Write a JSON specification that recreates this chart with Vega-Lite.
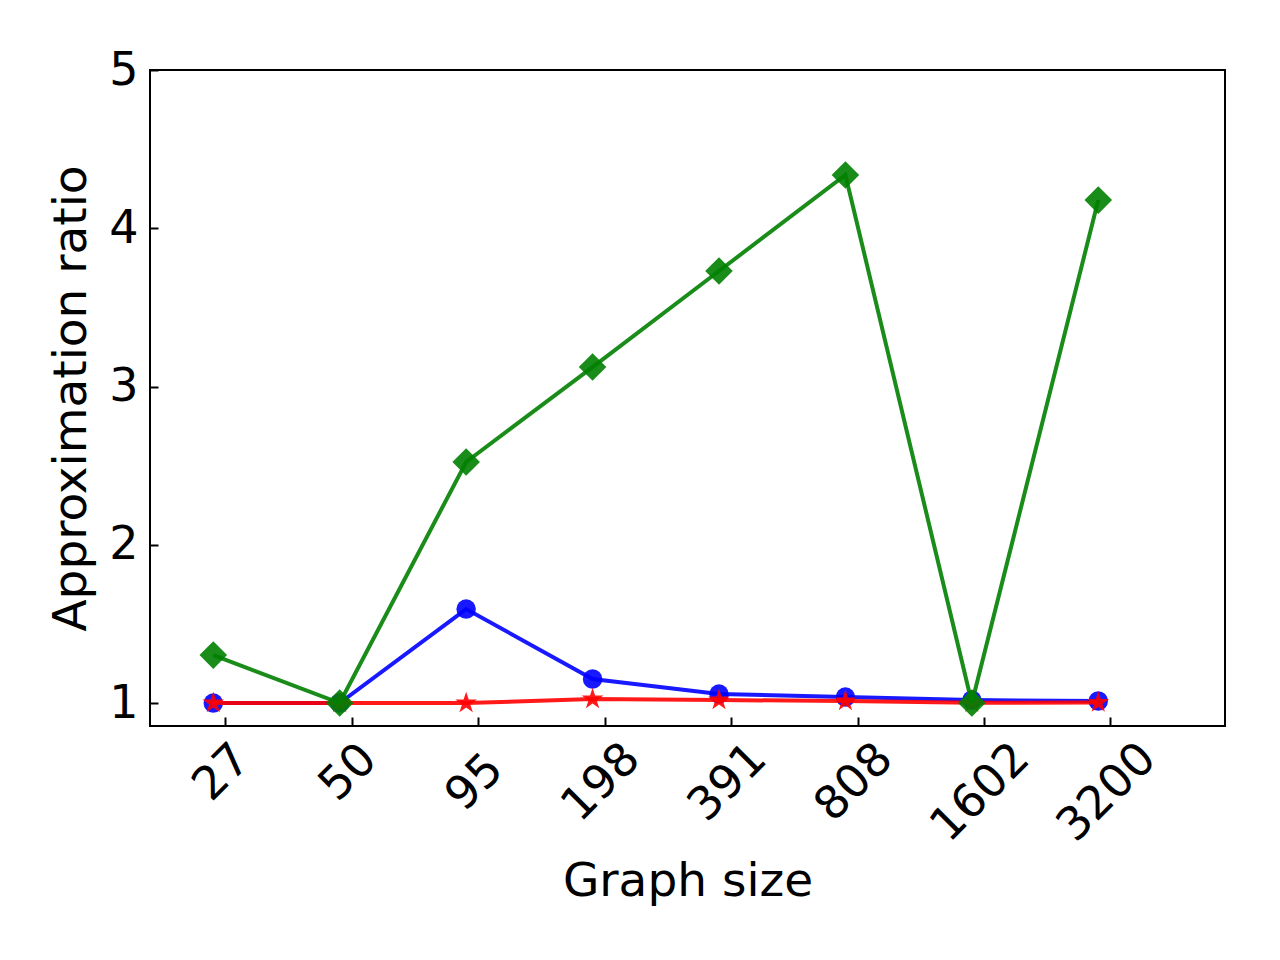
{
  "$schema": "https://vega.github.io/schema/vega-lite/v6.json",
  "width": 1075,
  "height": 656,
  "autosize": {"type": "none"},
  "padding": {"left": 150, "top": 70, "right": 55, "bottom": 234},
  "background": "white",
  "config": {
    "view": {"stroke": "black", "strokeWidth": 2},
    "font": "DejaVu Sans"
  },
  "data": {
    "values": [
      {"i": 0, "size": 27, "method": "A", "ratio": 1.0},
      {"i": 1, "size": 50, "method": "A", "ratio": 1.0},
      {"i": 2, "size": 95, "method": "A", "ratio": 1.594},
      {"i": 3, "size": 198, "method": "A", "ratio": 1.152},
      {"i": 4, "size": 391, "method": "A", "ratio": 1.057},
      {"i": 5, "size": 808, "method": "A", "ratio": 1.038},
      {"i": 6, "size": 1602, "method": "A", "ratio": 1.019},
      {"i": 7, "size": 3200, "method": "A", "ratio": 1.013},
      {"i": 0, "size": 27, "method": "B", "ratio": 1.0},
      {"i": 1, "size": 50, "method": "B", "ratio": 1.0},
      {"i": 2, "size": 95, "method": "B", "ratio": 1.0},
      {"i": 3, "size": 198, "method": "B", "ratio": 1.025},
      {"i": 4, "size": 391, "method": "B", "ratio": 1.019},
      {"i": 5, "size": 808, "method": "B", "ratio": 1.013},
      {"i": 6, "size": 1602, "method": "B", "ratio": 1.002},
      {"i": 7, "size": 3200, "method": "B", "ratio": 1.003},
      {"i": 0, "size": 27, "method": "C", "ratio": 1.303},
      {"i": 1, "size": 50, "method": "C", "ratio": 1.0},
      {"i": 2, "size": 95, "method": "C", "ratio": 2.523},
      {"i": 3, "size": 198, "method": "C", "ratio": 3.123},
      {"i": 4, "size": 391, "method": "C", "ratio": 3.73},
      {"i": 5, "size": 808, "method": "C", "ratio": 4.337},
      {"i": 6, "size": 1602, "method": "C", "ratio": 1.0},
      {"i": 7, "size": 3200, "method": "C", "ratio": 4.178}
    ]
  },
  "encoding": {
    "x": {
      "field": "size",
      "type": "ordinal",
      "bandPosition": 0.4,
      "scale": {"type": "band", "paddingInner": 0, "paddingOuter": 0.2515, "align": 0.2},
      "axis": {
        "title": "Graph size",
        "titleFontSize": 47,
        "titleFontWeight": "normal",
        "titleColor": "black",
        "titlePadding": 9,
        "bandPosition": 0.5,
        "labelAngle": -45,
        "labelAlign": "center",
        "labelBaseline": "middle",
        "labelFontSize": 46,
        "labelColor": "black",
        "labelOverlap": false,
        "labelFlush": false,
        "labelOffset": -4,
        "labelPadding": {
          "condition": [
            {"test": "datum.value < 90", "value": 55},
            {"test": "datum.value < 1000", "value": 65}
          ],
          "value": 75
        },
        "tickSize": -9,
        "tickWidth": 2,
        "tickColor": "black",
        "domain": false,
        "grid": false
      }
    },
    "y": {
      "field": "ratio",
      "type": "quantitative",
      "scale": {"domain": [0.855, 5.0], "nice": false, "zero": false},
      "axis": {
        "title": "Approximation ratio",
        "titleFontSize": 47,
        "titleFontWeight": "normal",
        "titleColor": "black",
        "titlePadding": 13,
        "values": [1, 2, 3, 4, 5],
        "labelFontSize": 46,
        "labelColor": "black",
        "labelBaseline": "middle",
        "labelPadding": 20,
        "tickSize": -8,
        "tickWidth": 2,
        "tickColor": "black",
        "domain": false,
        "grid": false
      }
    }
  },
  "layer": [
    {"transform": [{"filter": "datum.method === 'A'"}], "mark": {"type": "line", "color": "#0000ff", "opacity": 0.9, "strokeWidth": 4}},
    {"transform": [{"filter": "datum.method === 'A'"}], "mark": {"type": "point", "shape": "circle", "filled": true, "color": "#0000ff", "opacity": 0.9, "size": 380, "strokeWidth": 0}},
    {"transform": [{"filter": "datum.method === 'B'"}], "mark": {"type": "line", "color": "#ff0000", "opacity": 0.9, "strokeWidth": 4}},
    {"transform": [{"filter": "datum.method === 'B'"}], "mark": {"type": "point", "shape": "M0,-1L0.2246,-0.309L0.951,-0.309L0.3632,0.118L0.5878,0.809L0,0.382L-0.5878,0.809L-0.3632,0.118L-0.951,-0.309L-0.2246,-0.309Z", "filled": true, "color": "#ff0000", "opacity": 0.9, "size": 520, "strokeWidth": 0}},
    {"transform": [{"filter": "datum.method === 'C'"}], "mark": {"type": "line", "color": "#008000", "opacity": 0.9, "strokeWidth": 4}},
    {"transform": [{"filter": "datum.method === 'C'"}], "mark": {"type": "point", "shape": "diamond", "filled": true, "color": "#008000", "opacity": 0.9, "size": 760, "strokeWidth": 0}}
  ]
}
